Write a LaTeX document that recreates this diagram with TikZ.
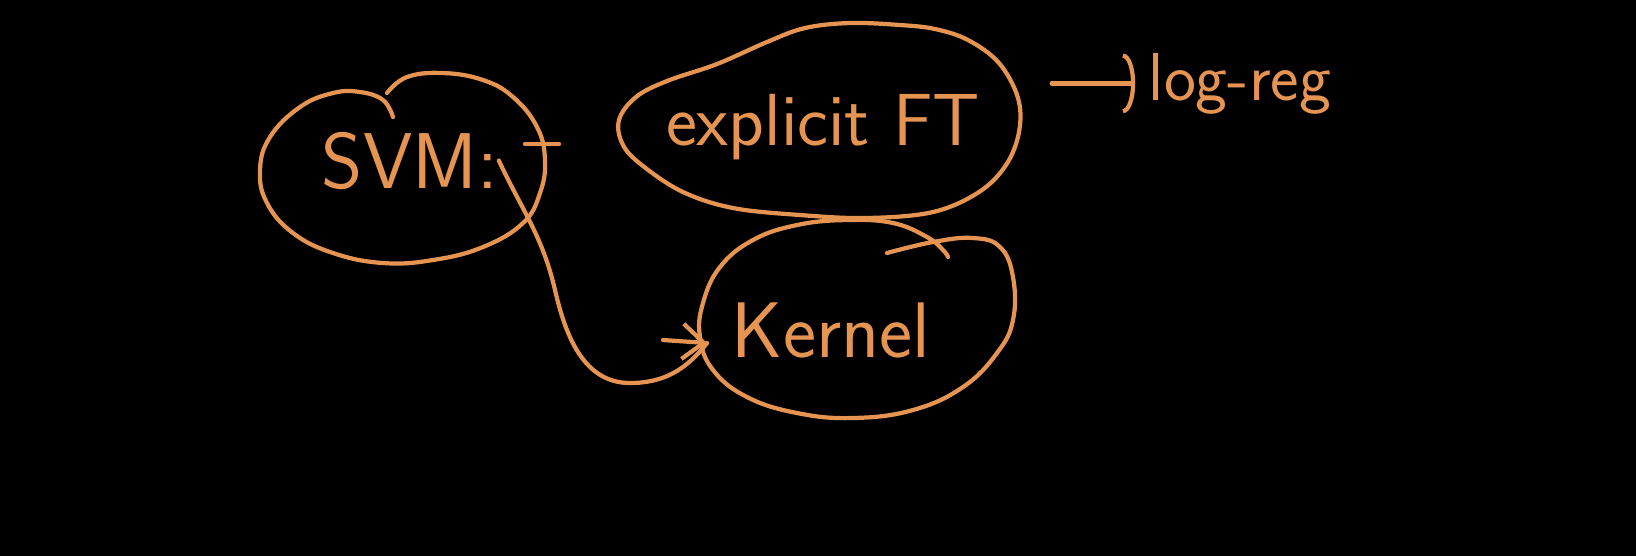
\documentclass[tikz,border=0pt]{standalone}
\usepackage{fontspec}
\usetikzlibrary{arrows.meta}
\definecolor{chalk}{RGB}{230,148,82}

\begin{document}
\begin{tikzpicture}[x=0.01cm, y=-0.01cm,
    pen/.style={draw=chalk, line width=1.2pt, line cap=round, line join=round},
    every node/.style={text=chalk, inner sep=0pt, anchor=base}]
    % board
    \fill[black] (0,0) rectangle (1636,556);
    \useasboundingbox (0,0) rectangle (1636,556);

    % labels
    \node[font=\sffamily\fontsize{22.5}{27}\selectfont] (svm) at (410,188) {SVM:};
    \node[font=\sffamily\fontsize{21}{25}\selectfont] (expl) at (823,145) {explicit FT};
    \node[font=\sffamily\fontsize{22.4}{27}\selectfont] (kernel) at (831,357) {Kernel};
    \node[font=\sffamily\fontsize{19.3}{23}\selectfont] (logreg) at (1240,100) {log-reg};
    \coordinate (kstub) at (663,340);
    \coordinate (kin) at (707,343);

    % blobs
    \draw[pen] plot[smooth, tension=0.7] coordinates {(393,117) (383,100) (360,92) (333,93) (300,107) (270,137) (260,170) (267,203) (293,233) (333,253) (383,263) (433,260) (483,247) (523,223) (540,193) (545,160) (537,127) (513,97) (483,80) (443,73) (407,77) (387,93)};
    \draw[pen] plot[smooth cycle, tension=0.6] coordinates {(619,120) (636,97) (667,81) (717,64) (767,42) (805,28) (850,23) (900,25) (935,29) (968,40) (999,63) (1018,98) (1019,132) (1006,165) (979,192) (933,212) (867,218) (800,215) (733,208) (683,192) (643,166) (623,145)};
    \draw[pen] plot[smooth, tension=0.7] coordinates {(887,253) (933,242) (973,238) (1000,247) (1013,277) (1013,320) (997,353) (963,387) (913,410) (853,418) (797,413) (747,397) (713,370) (700,337) (703,303) (720,267) (753,240) (797,225) (847,220) (893,223) (927,237) (943,250) (948,257)};
    \draw[pen] (525,144) -- (559,144);

    % arrows
    \draw[pen] (svm.east) to[out=-65, in=103] (555,290) to[out=-77, in=180] (630,383) to[out=0, in=-128] (kin);
    \draw[pen, -{Straight Barb[length=6pt, width=10pt]}] (kstub) -- (kin);
    \draw[pen, -{Arc Barb[length=3.5pt, width=17pt]}, shorten <=0.71cm, shorten >=0.13cm] (expl.east |- logreg.west) -- (logreg.west);
\end{tikzpicture}
\end{document}
